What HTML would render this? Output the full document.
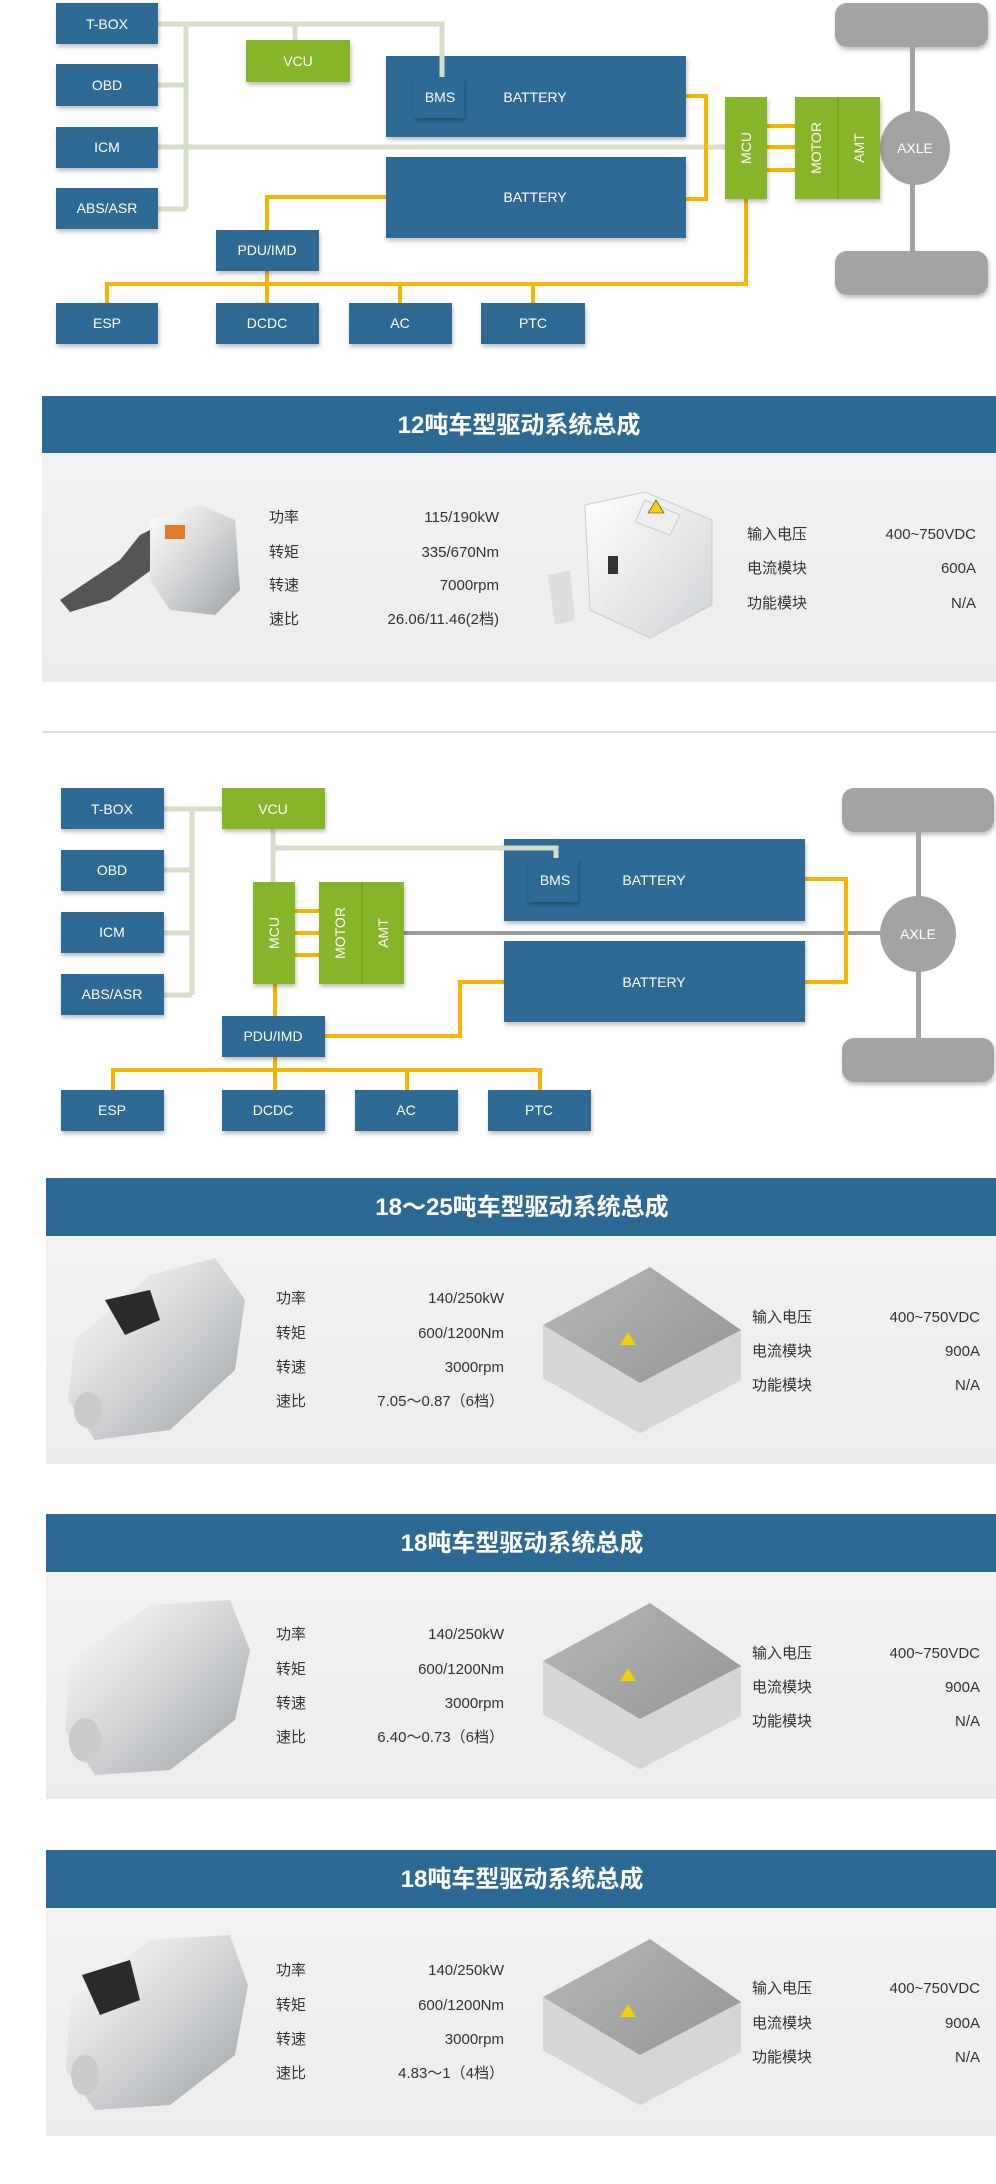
<!DOCTYPE html>
<html><head><meta charset="utf-8"><style>
html,body{margin:0;padding:0;background:#fff;width:996px;height:2184px;overflow:hidden}
svg{display:block}
.bl{font-family:"Liberation Sans",sans-serif;font-size:14px;fill:#fff;text-anchor:middle}
.tt{font-family:"Liberation Sans","Noto Sans CJK SC",sans-serif;font-size:24px;font-weight:bold;fill:#fff;text-anchor:middle}
.sp{font-family:"Liberation Sans","Noto Sans CJK SC",sans-serif;font-size:15px;fill:#333}
.r{text-anchor:end}
</style></head><body>
<svg width="996" height="2184" viewBox="0 0 996 2184" xmlns="http://www.w3.org/2000/svg">
<defs>
<filter id="sh" x="-10%" y="-10%" width="130%" height="140%"><feDropShadow dx="1" dy="3" stdDeviation="2" flood-color="#000" flood-opacity="0.25"/></filter>
<linearGradient id="pg" x1="0" y1="0" x2="0" y2="1"><stop offset="0" stop-color="#f2f2f2"/><stop offset="1" stop-color="#ececec"/></linearGradient>
<linearGradient id="sil" x1="0" y1="0" x2="1" y2="1"><stop offset="0" stop-color="#ffffff"/><stop offset="0.5" stop-color="#d2d4d6"/><stop offset="1" stop-color="#9ea2a6"/></linearGradient>
<linearGradient id="cg" x1="0" y1="0" x2="1" y2="1"><stop offset="0" stop-color="#b8b8b8"/><stop offset="1" stop-color="#8e8e8e"/></linearGradient>
<linearGradient id="wb" x1="0" y1="0" x2="1" y2="1"><stop offset="0" stop-color="#ffffff"/><stop offset="1" stop-color="#cfd2d5"/></linearGradient>
</defs>

<!-- ===== Diagram 1 ===== -->
<g fill="none" stroke="#d4dec8" stroke-width="5">
<path d="M158,24 H442 V77"/><path d="M186,24 V209"/><path d="M158,85 H186"/><path d="M158,147 H725"/><path d="M158,209 H186"/><path d="M295,24 V40"/>
</g>
<g fill="none" stroke="#f7b500" stroke-width="4">
<path d="M686,96 H706 V199 H686"/><path d="M767,126 H795 M767,147 H795 M767,170 H795"/>
<path d="M267,230 V197 H386"/><path d="M267,271 V284"/><path d="M107,303 V284 H746 V199"/>
<path d="M400,284 V303 M533,284 V303 M267,284 V303"/>
</g>
<g fill="#a3a3a3" filter="url(#sh)">
<rect x="835" y="3" width="153" height="44" rx="12"/><rect x="835" y="251" width="153" height="44" rx="12"/>
</g>
<rect x="910" y="47" width="5" height="204" fill="#a3a3a3"/>
<ellipse cx="915" cy="148" rx="35" ry="37" fill="#a3a3a3"/>
<text class="bl" x="915" y="153">AXLE</text>
<g fill="#2e6a93" filter="url(#sh)">
<rect x="56" y="3" width="102" height="41"/><rect x="56" y="64" width="102" height="42"/><rect x="56" y="127" width="102" height="41"/><rect x="56" y="188" width="102" height="41"/>
<rect x="386" y="56" width="300" height="81"/><rect x="386" y="157" width="300" height="81"/>
<rect x="216" y="230" width="103" height="41"/>
<rect x="56" y="303" width="102" height="41"/><rect x="216" y="303" width="103" height="41"/><rect x="349" y="303" width="103" height="41"/><rect x="481" y="303" width="104" height="41"/>
</g>
<rect x="414" y="77" width="50" height="41" fill="#2e6a93" filter="url(#sh)"/>
<path d="M442,56 V77" stroke="#d4dec8" stroke-width="5"/>
<g fill="#86b52a" filter="url(#sh)">
<rect x="246" y="40" width="104" height="42"/><rect x="725" y="97" width="42" height="102"/><rect x="795" y="97" width="43" height="102"/><rect x="838" y="97" width="42" height="102"/>
</g>
<line x1="838" y1="97" x2="838" y2="199" stroke="#6f9a20" stroke-width="1"/>
<text class="bl" x="107" y="29">T-BOX</text><text class="bl" x="107" y="90">OBD</text><text class="bl" x="107" y="152">ICM</text><text class="bl" x="107" y="213">ABS/ASR</text>
<text class="bl" x="298" y="66">VCU</text><text class="bl" x="440" y="102">BMS</text><text class="bl" x="535" y="102">BATTERY</text><text class="bl" x="535" y="202">BATTERY</text>
<text class="bl" x="267" y="255">PDU/IMD</text><text class="bl" x="107" y="328">ESP</text><text class="bl" x="267" y="328">DCDC</text><text class="bl" x="400" y="328">AC</text><text class="bl" x="533" y="328">PTC</text>
<text class="bl" transform="translate(751,148) rotate(-90)" font-size="13">MCU</text>
<text class="bl" transform="translate(821,148) rotate(-90)" font-size="13">MOTOR</text>
<text class="bl" transform="translate(864,148) rotate(-90)" font-size="13">AMT</text>

<!-- ===== Section 1 ===== -->
<rect x="42" y="396" width="954" height="57" fill="#2d6a93"/>
<text class="tt" x="519" y="433">12吨车型驱动系统总成</text>
<rect x="42" y="453" width="954" height="229" fill="url(#pg)"/>
<g>
<path d="M60,600 L120,560 L140,535 L160,525 L175,530 L165,560 L110,600 L70,612 Z" fill="#555"/>
<path d="M150,520 L200,505 L235,520 L240,590 L215,615 L170,610 L150,580 Z" fill="url(#sil)"/>
<rect x="165" y="525" width="20" height="14" fill="#e07a2a"/>
</g>
<g>
<path d="M585,505 L645,492 L712,520 L712,605 L650,638 L590,610 Z" fill="url(#wb)" stroke="#ccc"/>
<path d="M645,500 L680,515 L670,535 L635,522 Z" fill="#eee" stroke="#ccc"/>
<path d="M648,513 L656,500 L664,513 Z" fill="#f2d100" stroke="#333" stroke-width="0.6"/>
<rect x="608" y="556" width="10" height="18" fill="#333"/>
<path d="M548,575 L570,570 L575,620 L555,625 Z" fill="#ddd"/>
</g>
<g class="sp">
<text x="269" y="522">功率</text><text x="269" y="557">转矩</text><text x="269" y="590">转速</text><text x="269" y="624">速比</text>
<text class="r" x="499" y="522">115/190kW</text><text class="r" x="499" y="557">335/670Nm</text><text class="r" x="499" y="590">7000rpm</text><text class="r" x="499" y="624">26.06/11.46(2档)</text>
<text x="747" y="539">输入电压</text><text x="747" y="573">电流模块</text><text x="747" y="608">功能模块</text>
<text class="r" x="976" y="539">400~750VDC</text><text class="r" x="976" y="573">600A</text><text class="r" x="976" y="608">N/A</text>
</g>
<rect x="42" y="731" width="954" height="2" fill="#dddddd"/>

<!-- ===== Diagram 2 ===== -->
<g fill="none" stroke="#d4dec8" stroke-width="5">
<path d="M164,809 H222"/><path d="M192,809 V995"/><path d="M164,870 H192 M164,933 H192 M164,995 H192"/>
<path d="M273,829 V882"/><path d="M273,848 H556 V858"/>
</g>
<path d="M404,933 H880" stroke="#9c9c9c" stroke-width="4"/>
<g fill="none" stroke="#f7b500" stroke-width="4">
<path d="M805,879 H846 V982 H805"/><path d="M295,911 H319 M295,933 H319 M295,955 H319"/>
<path d="M275,984 V1016"/><path d="M325,1036 H460 V982 H504"/><path d="M275,1057 V1070"/>
<path d="M113,1090 V1070 H540 V1090"/><path d="M275,1070 V1090 M407,1070 V1090"/>
</g>
<g fill="#a3a3a3" filter="url(#sh)">
<rect x="842" y="788" width="152" height="44" rx="12"/><rect x="842" y="1038" width="152" height="44" rx="12"/>
</g>
<rect x="916" y="832" width="5" height="206" fill="#a3a3a3"/>
<ellipse cx="918" cy="934" rx="38" ry="38" fill="#a3a3a3"/>
<text class="bl" x="918" y="939">AXLE</text>
<g fill="#2e6a93" filter="url(#sh)">
<rect x="61" y="788" width="103" height="41"/><rect x="61" y="850" width="103" height="41"/><rect x="61" y="912" width="103" height="41"/><rect x="61" y="974" width="103" height="41"/>
<rect x="504" y="839" width="301" height="82"/><rect x="504" y="941" width="301" height="81"/>
<rect x="222" y="1016" width="103" height="41"/>
<rect x="61" y="1090" width="103" height="41"/><rect x="222" y="1090" width="103" height="41"/><rect x="355" y="1090" width="103" height="41"/><rect x="488" y="1090" width="103" height="41"/>
</g>
<path d="M502,848 H556 V858" fill="none" stroke="#d4dec8" stroke-width="5"/>
<rect x="528" y="858" width="50" height="44" fill="#2e6a93" filter="url(#sh)"/>
<g fill="#86b52a" filter="url(#sh)">
<rect x="222" y="788" width="103" height="41"/><rect x="253" y="882" width="42" height="102"/><rect x="319" y="882" width="43" height="102"/><rect x="362" y="882" width="42" height="102"/>
</g>
<line x1="362" y1="882" x2="362" y2="984" stroke="#6f9a20" stroke-width="1"/>
<text class="bl" x="112" y="814">T-BOX</text><text class="bl" x="112" y="875">OBD</text><text class="bl" x="112" y="937">ICM</text><text class="bl" x="112" y="999">ABS/ASR</text>
<text class="bl" x="273" y="814">VCU</text><text class="bl" x="555" y="885">BMS</text><text class="bl" x="654" y="885">BATTERY</text><text class="bl" x="654" y="987">BATTERY</text>
<text class="bl" x="273" y="1041">PDU/IMD</text><text class="bl" x="112" y="1115">ESP</text><text class="bl" x="273" y="1115">DCDC</text><text class="bl" x="406" y="1115">AC</text><text class="bl" x="539" y="1115">PTC</text>
<text class="bl" transform="translate(279,933) rotate(-90)" font-size="13">MCU</text>
<text class="bl" transform="translate(345,933) rotate(-90)" font-size="13">MOTOR</text>
<text class="bl" transform="translate(388,933) rotate(-90)" font-size="13">AMT</text>

<!-- ===== Sections 2-4 ===== -->
<rect x="46" y="1178" width="950" height="58" fill="#2d6a93"/>
<text class="tt" x="522" y="1215">18～25吨车型驱动系统总成</text>
<rect x="46" y="1236" width="950" height="228" fill="url(#pg)"/>
<rect x="46" y="1514" width="950" height="58" fill="#2d6a93"/>
<text class="tt" x="522" y="1551">18吨车型驱动系统总成</text>
<rect x="46" y="1572" width="950" height="227" fill="url(#pg)"/>
<rect x="46" y="1850" width="950" height="58" fill="#2d6a93"/>
<text class="tt" x="522" y="1887">18吨车型驱动系统总成</text>
<rect x="46" y="1908" width="950" height="228" fill="url(#pg)"/>

<g>
<path d="M75,1340 L150,1275 L215,1258 L245,1300 L235,1370 L170,1430 L95,1440 L68,1400 Z" fill="url(#sil)"/>
<path d="M105,1300 L150,1290 L160,1320 L125,1335 Z" fill="#2a2a2a"/>
<ellipse cx="88" cy="1410" rx="14" ry="18" fill="#c9cbcd"/>
<path d="M543,1325 L650,1267 L741,1330 L741,1380 L640,1433 L543,1378 Z" fill="url(#cg)"/>
<path d="M543,1325 L640,1383 L741,1330 L741,1380 L640,1433 L543,1378 Z" fill="#d6d6d6"/>
<path d="M620,1345 L628,1332 L636,1345 Z" fill="#f2d100"/>
</g>
<g>
<path d="M70,1660 L150,1605 L230,1600 L250,1650 L235,1720 L170,1770 L95,1775 L65,1730 Z" fill="url(#sil)"/>
<ellipse cx="85" cy="1740" rx="16" ry="22" fill="#c9cbcd"/>
<path d="M543,1661 L650,1603 L741,1666 L741,1716 L640,1769 L543,1714 Z" fill="url(#cg)"/>
<path d="M543,1661 L640,1719 L741,1666 L741,1716 L640,1769 L543,1714 Z" fill="#d6d6d6"/>
<path d="M620,1681 L628,1668 L636,1681 Z" fill="#f2d100"/>
</g>
<g>
<path d="M70,2000 L150,1940 L230,1935 L248,1985 L235,2055 L170,2105 L95,2110 L66,2070 Z" fill="url(#sil)"/>
<path d="M82,1975 L130,1960 L140,2000 L100,2015 Z" fill="#2a2a2a"/>
<ellipse cx="85" cy="2075" rx="14" ry="20" fill="#c9cbcd"/>
<path d="M543,1997 L650,1939 L741,2002 L741,2052 L640,2105 L543,2050 Z" fill="url(#cg)"/>
<path d="M543,1997 L640,2055 L741,2002 L741,2052 L640,2105 L543,2050 Z" fill="#d6d6d6"/>
<path d="M620,2017 L628,2004 L636,2017 Z" fill="#f2d100"/>
</g>

<g class="sp">
<text x="276" y="1303">功率</text><text x="276" y="1338">转矩</text><text x="276" y="1372">转速</text><text x="276" y="1406">速比</text>
<text class="r" x="504" y="1303">140/250kW</text><text class="r" x="504" y="1338">600/1200Nm</text><text class="r" x="504" y="1372">3000rpm</text><text class="r" x="504" y="1406">7.05～0.87（6档）</text>
<text x="752" y="1322">输入电压</text><text x="752" y="1356">电流模块</text><text x="752" y="1390">功能模块</text>
<text class="r" x="980" y="1322">400~750VDC</text><text class="r" x="980" y="1356">900A</text><text class="r" x="980" y="1390">N/A</text>

<text x="276" y="1639">功率</text><text x="276" y="1674">转矩</text><text x="276" y="1708">转速</text><text x="276" y="1742">速比</text>
<text class="r" x="504" y="1639">140/250kW</text><text class="r" x="504" y="1674">600/1200Nm</text><text class="r" x="504" y="1708">3000rpm</text><text class="r" x="504" y="1742">6.40～0.73（6档）</text>
<text x="752" y="1658">输入电压</text><text x="752" y="1692">电流模块</text><text x="752" y="1726">功能模块</text>
<text class="r" x="980" y="1658">400~750VDC</text><text class="r" x="980" y="1692">900A</text><text class="r" x="980" y="1726">N/A</text>

<text x="276" y="1975">功率</text><text x="276" y="2010">转矩</text><text x="276" y="2044">转速</text><text x="276" y="2078">速比</text>
<text class="r" x="504" y="1975">140/250kW</text><text class="r" x="504" y="2010">600/1200Nm</text><text class="r" x="504" y="2044">3000rpm</text><text class="r" x="504" y="2078">4.83～1（4档）</text>
<text x="752" y="1993">输入电压</text><text x="752" y="2028">电流模块</text><text x="752" y="2062">功能模块</text>
<text class="r" x="980" y="1993">400~750VDC</text><text class="r" x="980" y="2028">900A</text><text class="r" x="980" y="2062">N/A</text>
</g>
</svg>
</body></html>
